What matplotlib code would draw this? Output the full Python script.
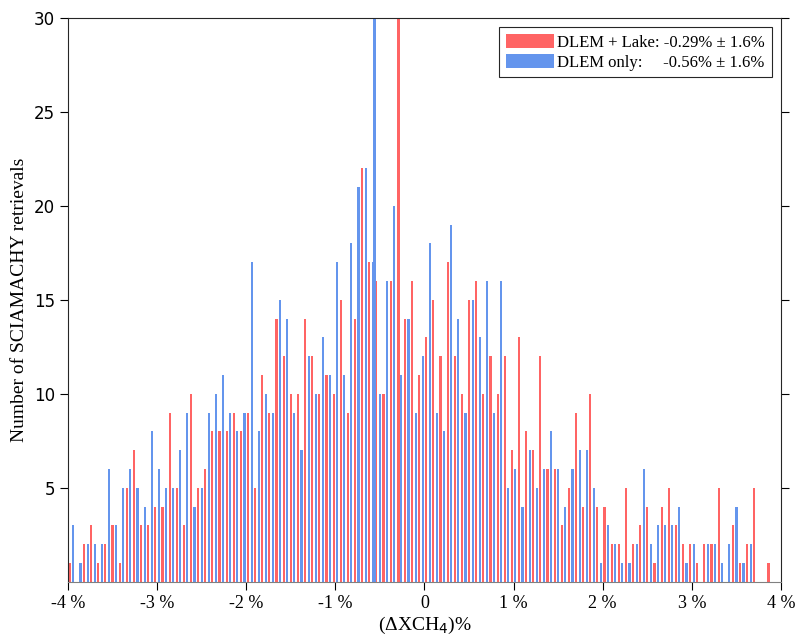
import numpy as np
import matplotlib
matplotlib.use("Agg")
import matplotlib.pyplot as plt

# histogram of XCH4 differences, 100 bins of 0.08 % between -4 % and 4 %
bin_edges = np.linspace(-4, 4, 101)

lake_counts = [1, 0, 2, 3, 1, 2, 3, 1, 5, 7,
               3, 3, 4, 4, 9, 5, 3, 10, 5, 6,
               8, 8, 8, 9, 8, 9, 5, 11, 9, 14,
               12, 10, 10, 14, 12, 10, 11, 10, 15, 9,
               14, 22, 17, 16, 10, 16, 15, 14, 16, 11,
               13, 15, 12, 17, 12, 10, 15, 16, 10, 12,
               10, 12, 7, 13, 8, 7, 12, 6, 6, 3,
               5, 9, 4, 10, 4, 4, 2, 2, 5, 2,
               3, 4, 1, 4, 5, 3, 2, 2, 1, 2,
               2, 5, 0, 3, 1, 2, 5, 0, 1, 0]

only_counts = [3, 1, 2, 2, 2, 6, 3, 5, 6, 5,
               4, 8, 6, 5, 5, 7, 9, 4, 5, 9,
               10, 11, 9, 8, 9, 17, 8, 10, 9, 15,
               14, 9, 7, 12, 10, 13, 11, 17, 11, 18,
               21, 22, 17, 10, 16, 20, 11, 14, 9, 12,
               18, 9, 8, 19, 14, 9, 15, 13, 16, 9,
               16, 5, 6, 4, 7, 5, 6, 8, 6, 4,
               6, 7, 7, 5, 1, 3, 2, 1, 1, 2,
               6, 2, 3, 3, 3, 4, 1, 2, 0, 2,
               2, 1, 2, 4, 1, 2, 0, 0, 0, 0]

mean_lake, std_lake = -0.29, 1.6
mean_only, std_only = -0.56, 1.6

red = '#ff6464'
blue = '#6495ed'
serif = 'Liberation Serif'

centers = 0.5 * (bin_edges[:-1] + bin_edges[1:])
step = bin_edges[1] - bin_edges[0]

fig = plt.figure(figsize=(7.98, 6.39), dpi=100)
ax = fig.add_axes([0.0852, 0.0897, 0.8935, 0.8821])

ax.bar(centers - step / 4, lake_counts, width=0.024, color=red, linewidth=0,
       label='DLEM + Lake: %.2f%% \u00b1 %.1f%%' % (mean_lake, std_lake))
ax.bar(centers + step / 4, only_counts, width=0.024, color=blue, linewidth=0,
       label='DLEM only:     %.2f%% \u00b1 %.1f%%' % (mean_only, std_only))
# mean markers
ax.bar([mean_only], [40], width=0.034, color=blue, linewidth=0)
ax.bar([mean_lake], [40], width=0.036, color=red, linewidth=0)

ax.set_xlim(-4, 4)
ax.set_ylim(0, 30)
ax.set_xticks(np.arange(-4, 5))
ax.set_xticklabels(['%d %%' % v if v != 0 else '0' for v in range(-4, 5)],
                   family=serif, fontsize=13)
ax.set_yticks([5, 10, 15, 20, 25, 30])
ax.tick_params(axis='y', labelsize=12, right=True, direction='out', length=6)
ax.tick_params(axis='x', direction='out', length=6)
for s in ax.spines.values():
    s.set_color('#262626')
ax.spines['bottom'].set_color('#808080')

ax.set_xlabel('(\u0394XCH$_4$)%', family=serif, fontsize=14, labelpad=2)
ax.set_ylabel('Number of SCIAMACHY retrievals', family=serif, fontsize=14)

leg = ax.legend(loc='upper right', prop={'family': serif, 'size': 12},
                fancybox=False, edgecolor='#262626', framealpha=1,
                handlelength=2.9, handleheight=0.9, handletextpad=0.2,
                borderaxespad=0.55, labelspacing=0.2, borderpad=0.4)
leg.get_frame().set_linewidth(0.8)

fig.savefig('out.png', dpi=100)
